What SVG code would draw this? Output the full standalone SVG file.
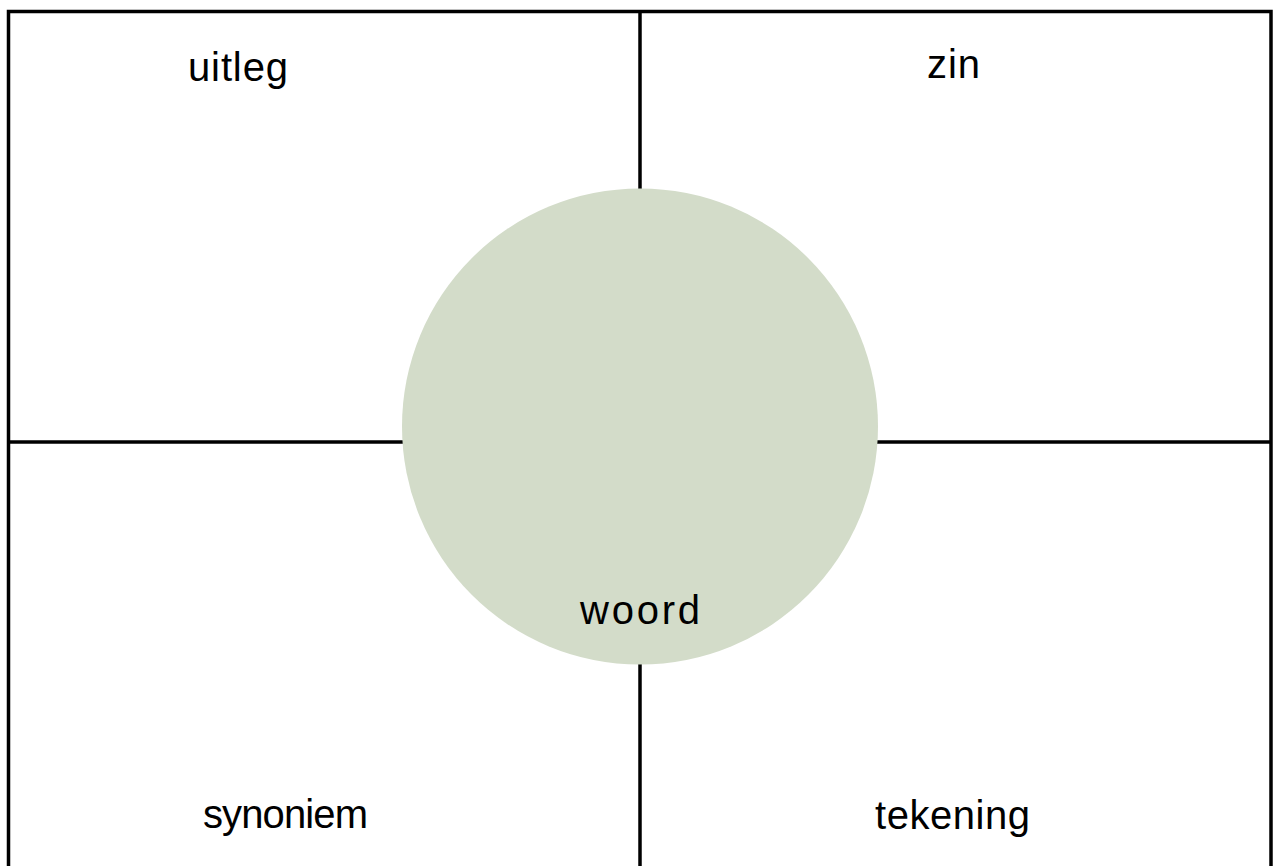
<svg xmlns="http://www.w3.org/2000/svg" width="1273" height="866" viewBox="0 0 1273 866">
<style>
.ln{stroke:#000;stroke-width:3.5;fill:none}
.lb{font-family:"Liberation Sans","Open Sans",sans-serif;font-size:40px;fill:#000}
</style>
<rect width="1273" height="866" fill="#fff"/>
<g id="connectors">
<rect class="ln" x="8.5" y="11.5" width="1262.5" height="870"/>
<line class="ln" x1="640" y1="11.5" x2="640" y2="190"/>
<line class="ln" x1="640" y1="660" x2="640" y2="866"/>
<line class="ln" x1="8.5" y1="442" x2="405" y2="442"/>
<line class="ln" x1="875" y1="442" x2="1271" y2="442"/>
</g>
<g id="center"><circle cx="640" cy="426.5" r="238" fill="#d3dcc9"/>
<text class="lb" x="580" y="624" textLength="120">woord</text></g>
<g id="uitleg"><text class="lb" x="188" y="81" textLength="100">uitleg</text></g>
<g id="zin"><text class="lb" x="927" y="78" textLength="53">zin</text></g>
<g id="synoniem"><text class="lb" x="203" y="828" textLength="165">synoniem</text></g>
<g id="tekening"><text class="lb" x="875" y="829" textLength="155">tekening</text></g>
</svg>
